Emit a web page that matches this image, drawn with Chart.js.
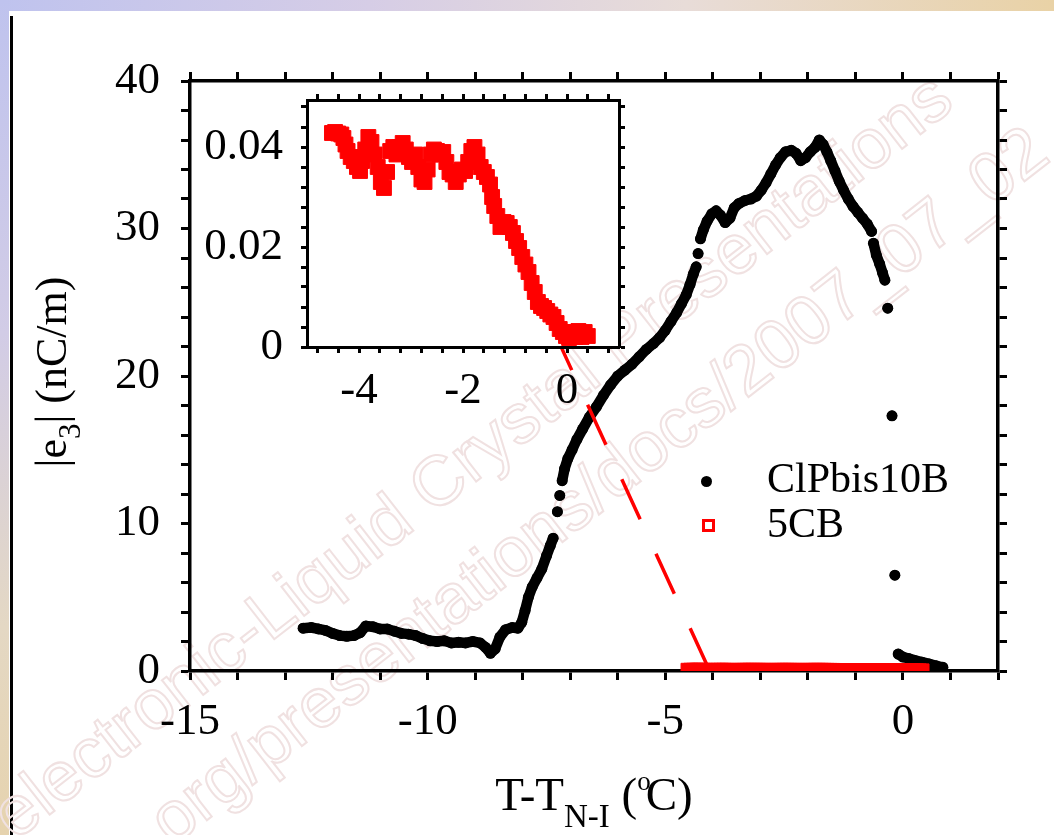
<!DOCTYPE html>
<html><head><meta charset="utf-8">
<script src="https://cdn.jsdelivr.net/npm/chart.js@4.4.1/dist/chart.umd.min.js"></script>
<style>
html,body{margin:0;padding:0;background:#fff;overflow:hidden;}
#page{position:relative;width:1054px;height:835px;background:#fff;overflow:hidden;font-family:"Liberation Serif","Times New Roman",serif;color:#000;}
#topstrip{position:absolute;left:0;top:0;width:1054px;height:11px;background:linear-gradient(to right,#bfc3ee,#d6cde6 35%,#e8dcd8 65%,#e9d2a6);}
#leftstrip{position:absolute;left:0;top:0;width:9px;height:835px;background:linear-gradient(to bottom,#bfc3ee,#d2cce6 40%,#e4d8c4 75%,#e6d3ae);}
#frameline{position:absolute;left:10px;top:16px;width:3px;height:819px;background:#000;}
.wm{position:absolute;white-space:nowrap;font-family:"Liberation Sans",Arial,sans-serif;font-size:70px;line-height:70px;color:transparent;-webkit-text-stroke:2px #f0e1e1;transform-origin:0 0;transform:rotate(-38deg);}
canvas{position:absolute;}
.txt{position:absolute;white-space:nowrap;}
</style></head>
<body><div id="page">
<div id="topstrip"></div><div id="leftstrip"></div><div id="frameline"></div>
<div class="wm" style="left:-21px;top:795px;">electronic-Liquid Crystal Presentations</div>
<div class="wm" style="left:-100px;top:985px;">www.e-lc.org/presentations/docs/2007_07_02</div>
<canvas id="main" width="1054" height="835" style="left:0;top:0;width:1054px;height:835px;"></canvas>
<canvas id="inset" width="470" height="390" style="left:180px;top:50px;width:470px;height:390px;"></canvas>
<div class="txt" style="left:701px;top:475.5px;width:11px;height:11px;border-radius:50%;background:#000;"></div>
<div class="txt" style="left:701.5px;top:518.5px;width:7px;height:7px;border:3px solid #f00;"></div>
<div class="txt" style="left:767px;top:456px;font-size:42px;line-height:44px;">ClPbis10B</div>
<div class="txt" style="left:767px;top:501px;font-size:42px;line-height:44px;">5CB</div>
<div class="txt" style="left:394px;top:771px;width:400px;text-align:center;font-size:47px;line-height:47px;">T-T<span style="font-size:33px;position:relative;top:17px;">N-I</span> (<span style="font-size:27px;position:relative;top:-20px;margin-right:-5px;">o</span>C)</div>
<div class="txt" style="left:-148px;top:349px;width:400px;height:46px;line-height:46px;font-size:44px;text-align:center;transform:rotate(-90deg);">|e<span style="font-size:31px;position:relative;top:14px;">3</span>| (nC/m)</div>
</div>
<script>
// ---------------- data ----------------
// ClPbis10B (main plot), T - T_N-I in degC, |e3| in nC/m ; null = gap in the trace
const blackX = [-12.62,-12.45,-12.3,-12.15,-12.0,-11.85,-11.7,-11.55,-11.42,-11.3,-11.15,-11.0,-10.85,-10.7,-10.55,-10.4,-10.25,-10.1,-9.95,-9.8,-9.65,-9.5,-9.35,-9.2,-9.05,-8.9,-8.78,-8.68,-8.58,-8.48,-8.36,-8.22,-8.1,-8.02,-7.95,-7.88,-7.8,-7.7,-7.6,-7.5,-7.42,-7.36,
  -7.3,-7.27,-7.25,-7.22,-7.2,
  -7.17,-7.12,-7.05,-6.96,-6.86,-6.74,-6.6,-6.45,-6.3,-6.15,-6.0,-5.85,-5.7,-5.55,-5.4,-5.25,-5.12,-5.0,-4.88,-4.76,-4.66,-4.56,-4.48,-4.41,-4.35,
  -4.33,-4.31,-4.28,
  -4.26,-4.2,-4.12,-4.02,-3.93,-3.84,-3.74,-3.64,-3.55,-3.45,-3.32,-3.2,-3.08,-2.98,-2.88,-2.78,-2.68,-2.58,-2.47,-2.35,-2.25,-2.15,-2.05,-1.95,-1.85,-1.76,-1.68,-1.6,-1.52,-1.43,-1.34,-1.25,-1.15,-1.05,-0.95,-0.85,-0.75,-0.66,
  -0.64,
  -0.62,-0.56,-0.49,-0.43,-0.38,
  -0.35,-0.32,-0.28,-0.23,-0.2,-0.17,-0.14,
  -0.1,0.0,0.12,0.25,0.4,0.55,0.7,0.84];
const blackY = [2.9,2.95,2.85,2.75,2.55,2.4,2.35,2.4,2.6,3.05,3.0,2.85,2.85,2.7,2.55,2.5,2.4,2.2,2.05,2.0,2.05,1.9,1.95,1.9,2.0,1.9,1.6,1.2,1.5,2.3,2.8,2.95,2.9,3.3,4.1,5.0,5.7,6.3,6.9,7.8,8.5,9.0,
  null,10.8,null,11.9,null,
  12.9,13.7,14.4,15.0,15.7,16.4,17.2,17.9,18.7,19.4,20.0,20.4,20.8,21.3,21.8,22.2,22.6,23.1,23.7,24.3,24.9,25.5,26.2,26.9,27.4,
  null,28.3,null,
  29.3,29.9,30.5,31.0,31.2,30.9,30.4,30.7,31.4,31.7,31.9,32.0,32.2,32.6,33.1,33.7,34.3,34.8,35.2,35.3,35.1,34.6,34.8,35.2,35.5,36.0,35.7,35.2,34.6,33.9,33.2,32.6,32.0,31.5,31.1,30.7,30.3,29.8,
  null,
  29.0,28.2,27.6,27.0,26.5,
  null,24.6,null,17.3,null,6.5,null,
  1.15,0.95,0.85,0.72,0.6,0.48,0.35,0.25];

// 5CB (inset and main plot), |e3| in nC/m
const redX = [-4.52,-4.46,-4.40,-4.34,-4.30,-4.26,-4.22,-4.16,-4.10,-4.04,-3.98,-3.94,-3.88,-3.82,-3.76,-3.70,-3.64,-3.58,-3.52,-3.46,-3.40,-3.34,-3.28,-3.22,-3.16,-3.10,-3.04,-2.98,-2.92,-2.86,-2.80,-2.74,-2.68,-2.62,-2.56,-2.50,-2.44,-2.38,-2.32,-2.26,-2.20,-2.14,-2.08,-2.02,-1.96,-1.90,-1.84,-1.78,-1.72,-1.66,-1.60,-1.54,-1.48,-1.44,-1.40,-1.34,-1.28,-1.22,-1.16,-1.10,-1.04,-0.98,-0.92,-0.86,-0.80,-0.74,-0.68,-0.62,-0.56,-0.50,-0.44,-0.38,-0.32,-0.26,-0.20,-0.14,-0.08,-0.02,0.04,0.10,0.16,0.22,0.28,0.34,0.40];
const redY = [0.0428,0.0430,0.0427,0.0425,0.0418,0.0405,0.0392,0.0380,0.0372,0.0360,0.0352,0.0372,0.0395,0.0420,0.0410,0.0385,0.0360,0.0330,0.0318,0.0350,0.0392,0.0400,0.0385,0.0400,0.0408,0.0395,0.0380,0.0370,0.0385,0.0360,0.0335,0.0330,0.0355,0.0385,0.0395,0.0392,0.0385,0.0390,0.0370,0.0350,0.0345,0.0330,0.0345,0.0355,0.0352,0.0370,0.0392,0.0400,0.0385,0.0360,0.0350,0.0340,0.0325,0.0300,0.0282,0.0262,0.0240,0.0250,0.0248,0.0240,0.0228,0.0212,0.0198,0.0180,0.0165,0.0150,0.0128,0.0110,0.0090,0.0082,0.0078,0.0072,0.0065,0.0060,0.0048,0.0036,0.0030,0.0022,0.0018,0.0030,0.0020,0.0032,0.0020,0.0030,0.0022];

// dashed red connector from the inset to the 5CB data (main plot coordinates)
const connX = [-7.354, -4.123];
const connY = [23.11, 0.41];

// axes
const mainXRange = [-15, 2], mainYRange = [0, 40];
const mainXStep = 1, mainYStep = 2;
const mainXLabels = [-15, -10, -5, 0];
const mainYLabels = [0, 10, 20, 30, 40];
const insetXRange = [-5, 1], insetYRange = [0, 0.0494];
const insetXStep = 0.4, insetYStep = 0.004;
const insetXLabels = [-4, -2, 0];
const insetYLabels = [0, 0.02, 0.04];

// ---------------- helpers ----------------
const FONT = "'Liberation Serif','Times New Roman',serif";
function pts(xs, ys){ return xs.map((x,i)=>({x:x, y:ys[i]})); }
function tickVals(range, step){
  const out=[]; const s=Math.ceil(range[0]/step-1e-9), e=Math.floor(range[1]/step+1e-9);
  for(let i=s;i<=e;i++) out.push(+(i*step).toFixed(6));
  return out;
}
function axis(pos, range, step, labels, opt){
  const vals = tickVals(range, step);
  return {
    type:'linear', position:pos, min:range[0], max:range[1],
    afterBuildTicks: s => { s.ticks = vals.map(v=>({value:v})); },
    afterFit: s => { if (pos==='top'||pos==='bottom') s.height = opt.size; else s.width = opt.size; },
    ticks:{
      autoSkip:false, maxRotation:0, minRotation:0, padding:opt.pad, color:'#000',
      font:{family:FONT, size:opt.font},
      callback: v => { if(!labels) return ''; const m = labels.find(l=>Math.abs(l-v)<1e-7); return m===undefined ? '' : String(m); }
    },
    grid:{display:true, drawOnChartArea:false, drawTicks:true, tickLength:opt.tl, tickWidth:opt.tw, tickColor:'#000', color:'#000'},
    border:{display:true, color:'#000', width:opt.bw}
  };
}
const whiteArea = { id:'whiteArea', beforeDraw(c){ const a=c.chartArea, g=c.ctx; g.save(); g.fillStyle='#fff'; g.fillRect(a.left,a.top,a.right-a.left,a.bottom-a.top); g.restore(); } };

// ---------------- main chart ----------------
new Chart(document.getElementById('main'), {
  type:'scatter',
  data:{ datasets:[
    { label:'connector', data:pts(connX, connY), showLine:true, borderColor:'#f00', borderWidth:3.5, borderDash:[44,38], pointRadius:0, fill:false },
    { label:'5CB', data:pts(redX, redY), pointStyle:'rect', pointRadius:10, pointBorderWidth:1, borderColor:'#f00', backgroundColor:'#f00', showLine:false },
    { label:'ClPbis10B', data:pts(blackX, blackY), showLine:true, spanGaps:false, borderColor:'#000', borderWidth:10.5, borderJoinStyle:'round', borderCapStyle:'round', pointRadius:5.5, pointBorderWidth:0, pointBackgroundColor:'#000', backgroundColor:'#000', tension:0, fill:false }
  ]},
  options:{
    responsive:false, animation:false, devicePixelRatio:1, events:[],
    layout:{padding:0},
    plugins:{legend:{display:false}, tooltip:{enabled:false}},
    scales:{
      x: axis('bottom', mainXRange, mainXStep, mainXLabels, {size:164, pad:15, font:45, tl:9, tw:3, bw:3.5}),
      x2: axis('top', mainXRange, mainXStep, null, {size:81, pad:0, font:10, tl:9, tw:3, bw:3.5}),
      y: axis('left', mainYRange, mainYStep, mainYLabels, {size:190, pad:21, font:45, tl:9, tw:3, bw:3.5}),
      y2: axis('right', mainYRange, mainYStep, null, {size:56, pad:0, font:10, tl:9, tw:3, bw:3.5})
    }
  }
});

// ---------------- inset chart ----------------
new Chart(document.getElementById('inset'), {
  type:'scatter',
  data:{ datasets:[
    { label:'5CB', data:pts(redX, redY), pointStyle:'rect', pointRadius:10.5, pointBorderWidth:1, borderColor:'#f00', backgroundColor:'#f00', showLine:false }
  ]},
  options:{
    responsive:false, animation:false, devicePixelRatio:1, events:[],
    layout:{padding:0},
    plugins:{legend:{display:false}, tooltip:{enabled:false}},
    scales:{
      x: axis('bottom', insetXRange, insetXStep, insetXLabels, {size:93, pad:11, font:45, tl:6, tw:3, bw:3}),
      x2: axis('top', insetXRange, insetXStep, null, {size:50, pad:0, font:10, tl:6, tw:3, bw:3}),
      y: axis('left', insetYRange, insetYStep, insetYLabels, {size:127, pad:18, font:45, tl:6, tw:3, bw:3}),
      y2: axis('right', insetYRange, insetYStep, null, {size:31, pad:0, font:10, tl:6, tw:3, bw:3})
    }
  },
  plugins:[whiteArea]
});
</script>
</body></html>
